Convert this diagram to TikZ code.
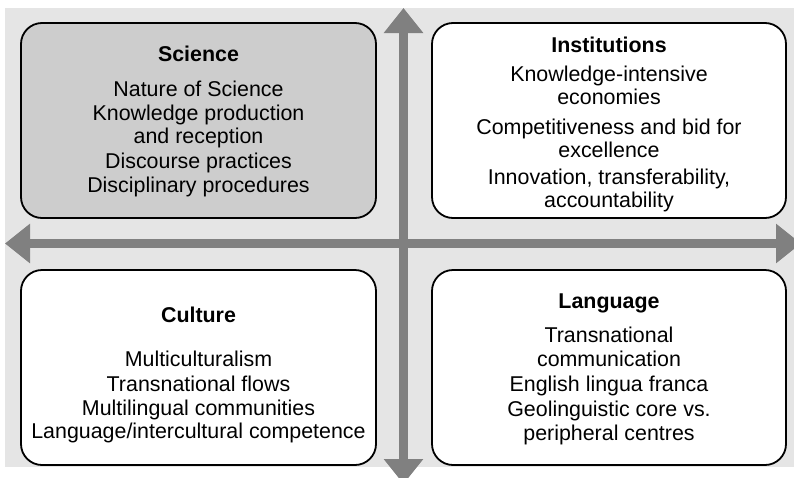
\documentclass[tikz,border=0pt]{standalone}
\usepackage{fontspec}
\setmainfont{Liberation Sans}
\usetikzlibrary{arrows.meta}
\definecolor{bgpanel}{HTML}{E5E5E5}
\definecolor{sciencefill}{HTML}{CDCDCD}
\definecolor{axisgrey}{HTML}{808080}
\newcommand{\bodyfont}{\fontsize{21.4}{24}\selectfont}
\begin{document}
\begin{tikzpicture}[x=1pt,y=-1pt,
  panel/.style={draw=black,line width=1.8pt,rounded corners=21pt,
    minimum width=355pt,minimum height=195pt,inner sep=0pt,fill=white},
  ln/.style={anchor=base,inner sep=0pt,font=\bodyfont},
  ttl/.style={ln,font=\bodyfont\bfseries},
  axis/.style={draw=axisgrey,line width=9.5pt,
    {Triangle[width=38pt,length=25pt]}-{Triangle[width=38pt,length=25pt]}}]
\useasboundingbox (0,0) rectangle (794,477);
\fill[bgpanel] (5,8) rectangle (794,467);

% axes
\coordinate (top) at (403.5,8);
\coordinate (bot) at (403.5,484);
\coordinate (lft) at (5,243.5);
\coordinate (rgt) at (801,243.5);
\draw[axis] (lft) -- (rgt);
\draw[axis] (bot) -- (top);

% quadrant panels
\node[panel,fill=sciencefill] (sci) at (198.5,120.5) {};
\node[panel,minimum width=354pt] (ins) at (609,120.5) {};
\node[panel] (cul) at (198.5,367.5) {};
\node[panel,minimum width=354pt] (lan) at (609,367.5) {};

% Science
\node[ttl] (sci-t) at (198.5,61) {Science};
\node[ln] (sci-1) at (198.5,96.7) {Nature of Science};
\node[ln] (sci-2) at (198.5,120.3) {Knowledge production};
\node[ln] (sci-3) at (198.5,143.5) {and reception};
\node[ln] (sci-4) at (198.5,168) {Discourse practices};
\node[ln] (sci-5) at (198.5,192) {Disciplinary procedures};

% Institutions
\node[ttl] (ins-t) at (609,52.7) {Institutions};
\node[ln] (ins-1) at (609,81) {Knowledge-intensive};
\node[ln] (ins-2) at (609,104) {economies};
\node[ln] (ins-3) at (609,134) {Competitiveness and bid for};
\node[ln] (ins-4) at (609,157) {excellence};
\node[ln] (ins-5) at (609,184) {Innovation, transferability,};
\node[ln] (ins-6) at (609,207) {accountability};

% Culture
\node[ttl] (cul-t) at (198.5,322.7) {Culture};
\node[ln] (cul-1) at (198.5,366.7) {Multiculturalism};
\node[ln] (cul-2) at (198.5,391) {Transnational flows};
\node[ln] (cul-3) at (198.5,415.7) {Multilingual communities};
\node[ln] (cul-4) at (198.5,438.5) {Language/intercultural competence};

% Language
\node[ttl] (lan-t) at (609,308.3) {Language};
\node[ln] (lan-1) at (609,342.7) {Transnational};
\node[ln] (lan-2) at (609,366.7) {communication};
\node[ln] (lan-3) at (609,391.7) {English lingua franca};
\node[ln] (lan-4) at (609,416.7) {Geolinguistic core vs.};
\node[ln] (lan-5) at (609,440) {peripheral centres};
\end{tikzpicture}
\end{document}
